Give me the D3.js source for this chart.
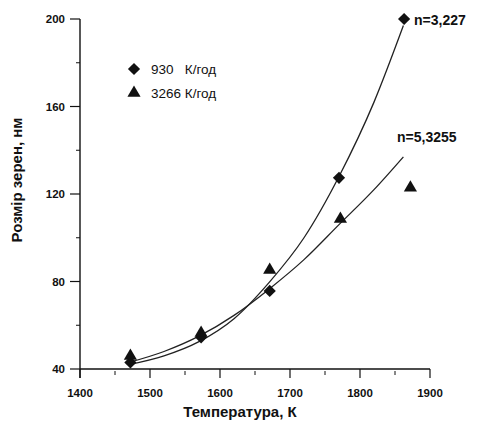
<!DOCTYPE html>
<html>
<head>
<meta charset="utf-8">
<script src="https://cdn.jsdelivr.net/npm/d3@7"></script>
<style>
  body { margin: 0; background: #fff; }
  text { font-family: "Liberation Sans", Arial, sans-serif; fill: #111; }
</style>
</head>
<body>
<script>
// measured points
const temps930 = [1472, 1573, 1671, 1770, 1863];
const size930 = [43, 54.5, 75.7, 127.4, 200];
const temps3266 = [1472, 1573, 1671, 1772, 1872];
const size3266 = [46.4, 56.9, 85.7, 109, 123.3];

// fitted curves
const fitX = [1470, 1520, 1570, 1620, 1670, 1720, 1770, 1820, 1862];
const fit930 = [42, 46, 52.5, 63, 79.5, 100, 128, 162, 197];
const fit3266 = [43, 48, 55, 64.5, 76.5, 90, 106, 122, 137];

const xTicks = [1400, 1500, 1600, 1700, 1800, 1900];
const yTicks = [40, 80, 120, 160, 200];

let width = 479, height = 423;

let svg = d3.select("body").append("svg")
    .attr("width", width)
    .attr("height", height);

let x = d3.scaleLinear().domain([1400, 1900]).range([80, 430]);
let y = d3.scaleLinear().domain([40, 200]).range([369, 19]);

// y axis
svg.append("line")
    .attr("x1", x(1400)).attr("x2", x(1400))
    .attr("y1", y(200)).attr("y2", y(40) + 9)
    .attr("stroke", "#111").attr("stroke-width", 1.4);

svg.selectAll("line.ymajor")
    .data(yTicks)
    .enter().append("line")
    .attr("x1", x(1400) - 10).attr("x2", x(1400))
    .attr("y1", d => y(d)).attr("y2", d => y(d))
    .attr("stroke", "#111").attr("stroke-width", 1.2);

svg.selectAll("line.yminor")
    .data([60, 100, 140, 180])
    .enter().append("line")
    .attr("x1", x(1400) - 4).attr("x2", x(1400))
    .attr("y1", d => y(d)).attr("y2", d => y(d))
    .attr("stroke", "#111").attr("stroke-width", 1);

svg.selectAll("text.ytick")
    .data(yTicks)
    .enter().append("text")
    .attr("x", x(1400) - 15)
    .attr("y", d => y(d) + 4)
    .attr("text-anchor", "end")
    .attr("font-size", 11.5)
    .attr("font-weight", "bold")
    .text(d => d);

// x axis
svg.append("line")
    .attr("x1", x(1400)).attr("x2", x(1900))
    .attr("y1", y(40)).attr("y2", y(40))
    .attr("stroke", "#111").attr("stroke-width", 1.4);

svg.selectAll("line.xmajor")
    .data(xTicks)
    .enter().append("line")
    .attr("x1", d => x(d)).attr("x2", d => x(d))
    .attr("y1", y(40)).attr("y2", y(40) + 9)
    .attr("stroke", "#111").attr("stroke-width", 1.2);

svg.selectAll("line.xminor")
    .data([1450, 1550, 1650, 1750, 1850])
    .enter().append("line")
    .attr("x1", d => x(d)).attr("x2", d => x(d))
    .attr("y1", y(40) + 2).attr("y2", y(40) + 6)
    .attr("stroke", "#111").attr("stroke-width", 1);

svg.selectAll("text.xtick")
    .data(xTicks)
    .enter().append("text")
    .attr("x", d => x(d))
    .attr("y", y(40) + 28)
    .attr("text-anchor", "middle")
    .attr("font-size", 11.5)
    .attr("font-weight", "bold")
    .text(d => d);

// axis titles
svg.append("text")
    .attr("x", 240).attr("y", 417)
    .attr("text-anchor", "middle")
    .attr("font-size", 15)
    .attr("font-weight", "bold")
    .text("Температура, К");

svg.append("text")
    .attr("transform", "translate(22,180) rotate(-90)")
    .attr("text-anchor", "middle")
    .attr("font-size", 15)
    .attr("font-weight", "bold")
    .text("Розмір зерен, нм");

// fit curves
let line = d3.line().curve(d3.curveMonotoneX)
    .x(d => x(d[0])).y(d => y(d[1]));

[fit930, fit3266].forEach(function (s) {
    svg.append("path")
        .datum(fitX.map((t, i) => [t, s[i]]))
        .attr("d", line)
        .attr("fill", "none")
        .attr("stroke", "#222")
        .attr("stroke-width", 1.3);
});

// markers
let diamond = d3.symbol().type(d3.symbolDiamond2).size(95);
let triangle = d3.symbol().type(d3.symbolTriangle).size(75);

svg.selectAll("path.d930")
    .data(temps930.map((t, i) => [t, size930[i]]))
    .enter().append("path")
    .attr("d", diamond)
    .attr("transform", d => "translate(" + x(d[0]) + "," + y(d[1]) + ")")
    .attr("fill", "#111");

svg.selectAll("path.t3266")
    .data(temps3266.map((t, i) => [t, size3266[i]]))
    .enter().append("path")
    .attr("d", triangle)
    .attr("transform", d => "translate(" + x(d[0]) + "," + (y(d[1]) + 1) + ")")
    .attr("fill", "#111");

// legend
svg.append("path").attr("d", diamond)
    .attr("transform", "translate(134,69)").attr("fill", "#111");
svg.append("path").attr("d", triangle)
    .attr("transform", "translate(134,93)").attr("fill", "#111");

svg.append("text")
    .attr("x", 151).attr("y", 74)
    .attr("font-size", 13.5)
    .attr("xml:space", "preserve")
    .text("930   К/год");
svg.append("text")
    .attr("x", 151).attr("y", 98)
    .attr("font-size", 13.5)
    .text("3266 К/год");

// annotations
svg.append("text")
    .attr("x", 414).attr("y", 25)
    .attr("font-size", 14)
    .attr("font-weight", "bold")
    .text("n=3,227");
svg.append("text")
    .attr("x", 397).attr("y", 142)
    .attr("font-size", 14)
    .attr("font-weight", "bold")
    .text("n=5,3255");
</script>
</body>
</html>
